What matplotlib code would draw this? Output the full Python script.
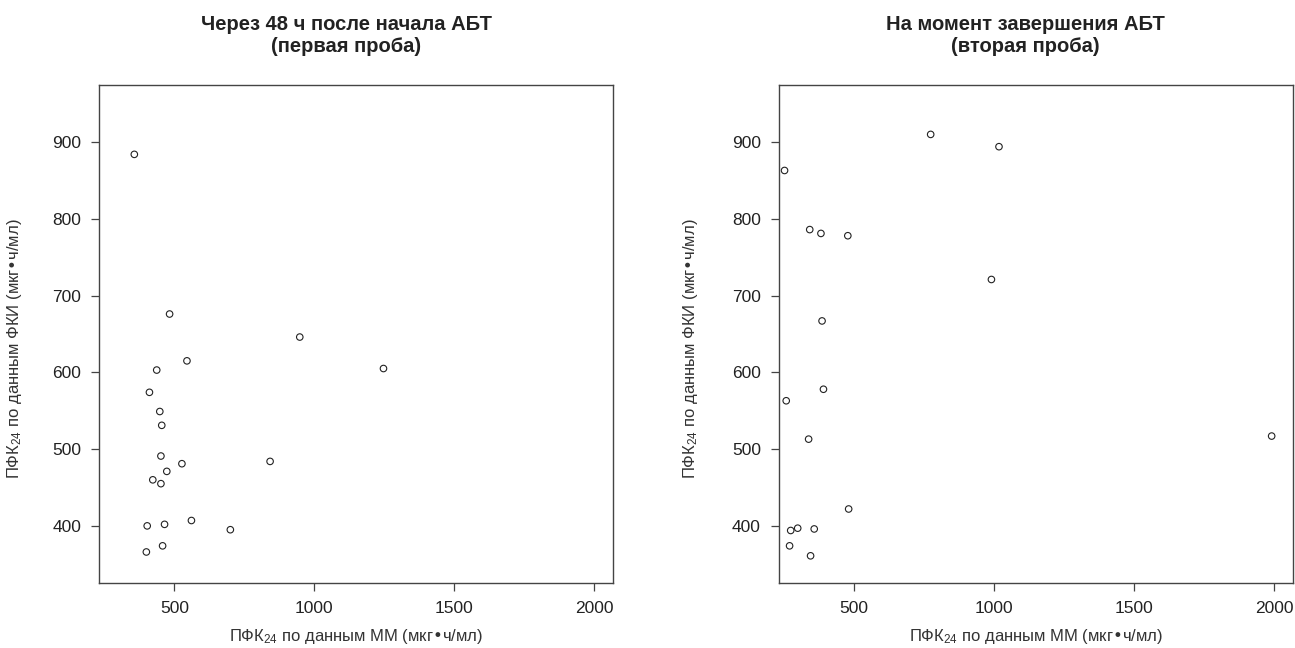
import matplotlib
matplotlib.use("Agg")
import matplotlib.pyplot as plt

plt.rcParams['font.family'] = ['Liberation Sans', 'DejaVu Sans']
plt.rcParams['mathtext.default'] = 'regular'

# first sample (48 h after start)
x1 = [357, 483, 948, 545, 437, 1247, 411, 448, 455, 452, 527, 842, 473, 423, 452,
      403, 465, 561, 700, 458, 400]
y1 = [884, 676, 646, 615, 603, 605, 574, 549, 531, 491, 481, 484, 471, 460, 455,
      400, 402, 407, 395, 374, 366]

# second sample (end of therapy)
x2 = [774, 1018, 252, 342, 382, 478, 991, 386, 391, 258, 338, 481, 274, 299, 358,
      270, 345, 1992]
y2 = [910, 894, 863, 786, 781, 778, 721, 667, 578, 563, 513, 422, 394, 397, 396,
      374, 361, 517]

titles = ['Через 48 ч после начала АБТ\n(первая проба)',
          'На момент завершения АБТ\n(вторая проба)']
xticks = [500, 1000, 1500, 2000]
yticks = [400, 500, 600, 700, 800, 900]
xlabel = 'ПФК$_{24}$ по данным ММ (мкг•ч/мл)'
ylabel = 'ПФК$_{24}$ по данным ФКИ (мкг•ч/мл)'

fig = plt.figure(figsize=(12.95, 6.48), dpi=100)
ax1 = fig.add_axes([0.0767, 0.1008, 0.3969, 0.7676])
ax2 = fig.add_axes([0.6015, 0.1008, 0.3969, 0.7676])

for ax, xs, ys, t, ylx in [(ax1, x1, y1, titles[0], -0.165),
                           (ax2, x2, y2, titles[1], -0.172)]:
    ax.scatter(xs, ys, s=22, facecolors='none', edgecolors='#222222', linewidths=0.8)
    ax.set_xlim(300 - 68, 2000 + 68)
    ax.set_ylim(350 - 24, 950 + 24)
    ax.set_xticks(xticks)
    ax.set_yticks(yticks)
    ax.tick_params(direction='out', length=6, width=0.9, colors='#444444',
                   labelcolor='#222222', labelsize=12.5, pad=7)
    for s in ax.spines.values():
        s.set_color('#444444')
        s.set_linewidth(1.0)
    ax.text(0.48, 1.10, t, transform=ax.transAxes, ha='center', va='center',
            fontsize=14.5, fontweight='bold', color='#222222', linespacing=1.15)
    ax.set_xlabel(xlabel, fontsize=12, color='#333333', va='center')
    ax.set_ylabel(ylabel, fontsize=12, color='#333333', va='center')
    ax.xaxis.set_label_coords(0.5, -0.108)
    ax.yaxis.set_label_coords(ylx, 0.47)

fig.savefig('out.png', dpi=100)
